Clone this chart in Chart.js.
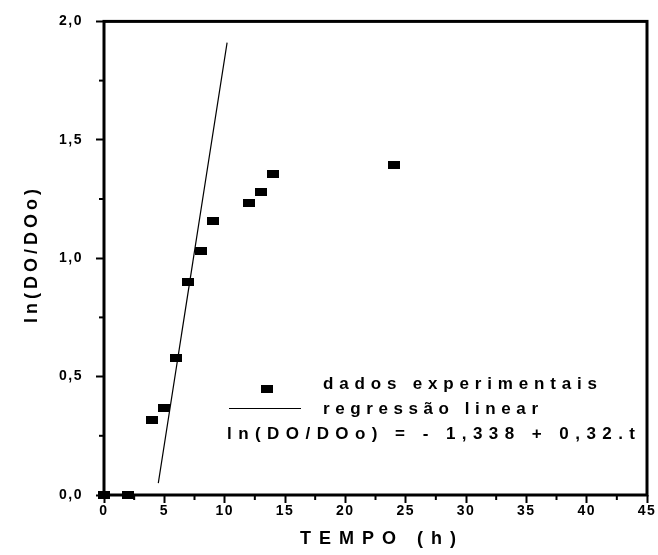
<!DOCTYPE html>
<html>
<head>
<meta charset="utf-8">
<script src="https://cdn.jsdelivr.net/npm/chart.js@4/dist/chart.umd.min.js"></script>
<style>
    html, body { margin: 0; padding: 0; background: #fff; }
    canvas { display: block; }
</style>
</head>
<body>
<canvas id="growth-chart" width="658" height="555"></canvas>
<script>
// valores
const tempo = [0, 2, 4, 5, 6, 7, 8, 9, 12, 13, 14, 24];
const lnDO = [0, 0, 0.318, 0.368, 0.58, 0.90, 1.03, 1.155, 1.233, 1.28, 1.355, 1.393];

// reta de regressão (extremos como desenhados)
const regT = [4.5, 10.2];
const regY = [0.05, 1.91];

const xTickLabels = ['0', '5', '10', '15', '20', '25', '30', '35', '40', '45'];
const yTickLabels = ['0,0', '0,5', '1,0', '1,5', '2,0'];

const xTitle = 'TEMPO (h)';
const yTitle = 'ln(DO/DOo)';
const legendData = 'dados experimentais';
const legendReg = 'regressão linear';
const equation = 'ln(DO/DOo) = - 1,338 + 0,32.t';

document.addEventListener('DOMContentLoaded', () => {
    initChart();
});

function makeMarker(w, h) {
    const c = document.createElement('canvas');
    c.width = w;
    c.height = h;
    const g = c.getContext('2d');
    g.fillStyle = '#000';
    g.fillRect(0, 0, w, h);
    return c;
}

function drawSpaced(ctx, text, x, y, width, font) {
    ctx.font = font;
    ctx.letterSpacing = '0px';
    const w = ctx.measureText(text).width;
    const ls = (width - w) / (text.length - 1);
    ctx.letterSpacing = ls + 'px';
    ctx.fillText(text, x, y);
    ctx.letterSpacing = '0px';
}

const marker = makeMarker(12, 8);

const framePlugin = {
    id: 'frame',
    beforeDraw(chart) {
        chart.ctx.letterSpacing = '1.5px';
    },
    beforeDatasetsDraw(chart) {
        const { ctx, chartArea: a, scales } = chart;
        ctx.save();
        ctx.letterSpacing = '0px';
        ctx.strokeStyle = '#000';
        ctx.lineWidth = 3;
        ctx.strokeRect(a.left, a.top, a.right - a.left, a.bottom - a.top);

        // marcas menores entre os ticks principais
        ctx.lineWidth = 2;
        const xt = scales.x.ticks;
        for (let i = 0; i < xt.length - 1; i++) {
            const px = scales.x.getPixelForValue((xt[i].value + xt[i + 1].value) / 2);
            ctx.beginPath();
            ctx.moveTo(px, a.bottom);
            ctx.lineTo(px, a.bottom + 5);
            ctx.stroke();
        }
        const yt = scales.y.ticks;
        for (let i = 0; i < yt.length - 1; i++) {
            const py = scales.y.getPixelForValue((yt[i].value + yt[i + 1].value) / 2);
            ctx.beginPath();
            ctx.moveTo(a.left, py);
            ctx.lineTo(a.left - 5, py);
            ctx.stroke();
        }
        ctx.restore();
    },
    afterDraw(chart) {
        const { ctx } = chart;
        ctx.save();
        ctx.fillStyle = '#000';
        ctx.textBaseline = 'alphabetic';
        ctx.textAlign = 'left';

        drawSpaced(ctx, xTitle, 300, 544, 156, 'bold 18px "Liberation Sans", Arial, sans-serif');

        ctx.save();
        ctx.translate(37, 323);
        ctx.rotate(-Math.PI / 2);
        drawSpaced(ctx, yTitle, 0, 0, 134, 'bold 18px "Liberation Sans", Arial, sans-serif');
        ctx.restore();

        // legenda
        ctx.drawImage(marker, 261, 385);
        ctx.strokeStyle = '#000';
        ctx.lineWidth = 1;
        ctx.beginPath();
        ctx.moveTo(229, 408.5);
        ctx.lineTo(301, 408.5);
        ctx.stroke();

        const f = 'bold 17px "Liberation Sans", Arial, sans-serif';
        drawSpaced(ctx, legendData, 323, 389, 274, f);
        drawSpaced(ctx, legendReg, 323, 414, 215, f);
        drawSpaced(ctx, equation, 227, 439, 408, f);
        ctx.restore();
    },
};

function initChart() {
    const canvas = document.getElementById('growth-chart');
    if (!canvas || typeof Chart === 'undefined') return;

    const tickFont = { family: '"Liberation Sans", Arial, sans-serif', size: 14, weight: 'bold' };

    new Chart(canvas.getContext('2d'), {
        type: 'scatter',
        data: {
            datasets: [{
                label: legendData,
                data: tempo.map((t, i) => ({ x: t, y: lnDO[i] })),
                pointStyle: marker,
                pointRadius: 6,
                backgroundColor: '#000',
                borderColor: '#000',
                clip: false,
            }, {
                label: legendReg,
                data: regT.map((t, i) => ({ x: t, y: regY[i] })),
                showLine: true,
                pointRadius: 0,
                borderColor: '#000',
                borderWidth: 1.2,
                order: 1,
            }],
        },
        options: {
            responsive: false,
            animation: false,
            events: [],
            layout: { padding: { top: 17, right: 11, left: 0, bottom: 0 } },
            plugins: {
                legend: { display: false },
                tooltip: { enabled: false },
            },
            scales: {
                x: {
                    type: 'linear',
                    min: 0,
                    max: 45,
                    afterFit: (s) => { s.height = 60; },
                    border: { display: false },
                    grid: {
                        drawOnChartArea: false,
                        tickLength: 8,
                        tickWidth: 2,
                        tickColor: '#000',
                    },
                    ticks: {
                        stepSize: 5,
                        maxRotation: 0,
                        padding: 0,
                        color: '#000',
                        font: tickFont,
                        callback: (v, i) => xTickLabels[i],
                    },
                },
                y: {
                    min: 0,
                    max: 2,
                    afterFit: (s) => { s.width = 104; },
                    border: { display: false },
                    grid: {
                        drawOnChartArea: false,
                        tickLength: 8,
                        tickWidth: 2,
                        tickColor: '#000',
                    },
                    ticks: {
                        stepSize: 0.5,
                        padding: 13,
                        color: '#000',
                        font: tickFont,
                        callback: (v, i) => yTickLabels[i],
                    },
                },
            },
        },
        plugins: [framePlugin],
    });
}
</script>
</body>
</html>
